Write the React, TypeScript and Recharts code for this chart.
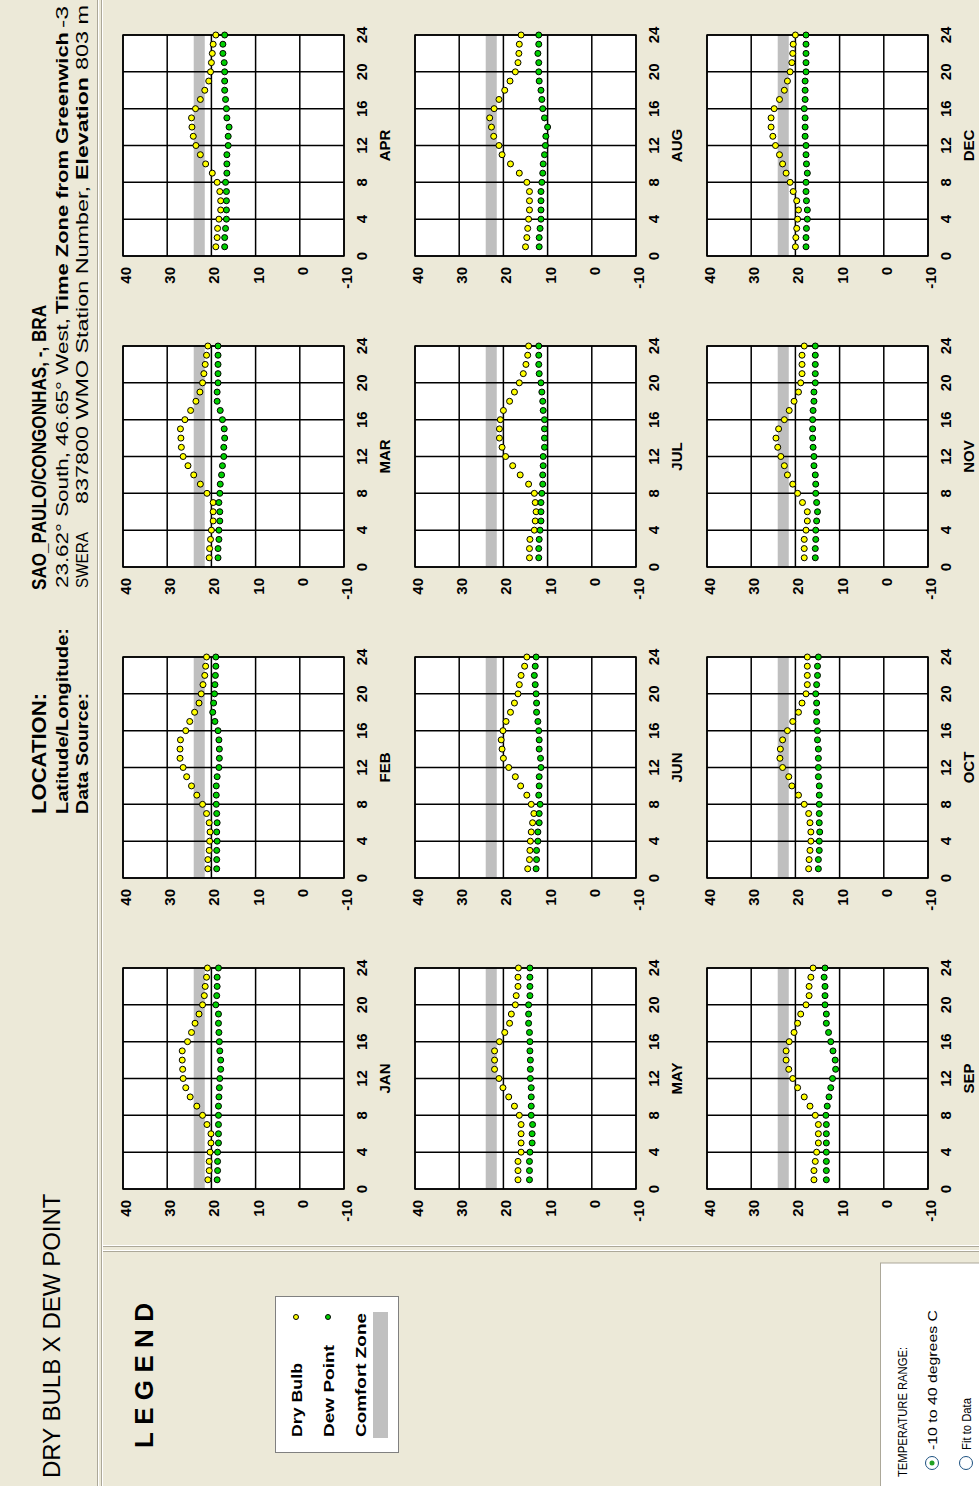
import React from 'react';
import { CartesianGrid, Label, ReferenceArea, Scatter, ScatterChart, XAxis, YAxis } from 'recharts';

// hourly values, hours 1..24
const HOURS = [1, 2, 3, 4, 5, 6, 7, 8, 9, 10, 11, 12, 13, 14, 15, 16, 17, 18, 19, 20, 21, 22, 23, 24];
const MONTHS = ['JAN', 'FEB', 'MAR', 'APR', 'MAY', 'JUN', 'JUL', 'AUG', 'SEP', 'OCT', 'NOV', 'DEC'];
const HOUR_TICKS = [0, 4, 8, 12, 16, 20, 24];
const TEMP_TICKS = [-10, 0, 10, 20, 30, 40];
const COMFORT_ZONE = [21.5, 24];

const DRY_JAN = [20.8, 20.5, 20.5, 20.3, 20.1, 20.1, 21.0, 22.0, 23.3, 24.8, 25.8, 26.4, 26.5, 26.6, 26.6, 25.4, 24.5, 23.7, 22.8, 22.0, 21.6, 21.4, 21.1, 20.9];
const DEW_JAN = [18.7, 18.6, 18.6, 18.6, 18.4, 18.4, 18.4, 18.4, 18.4, 18.3, 18.2, 18.1, 17.9, 17.9, 18.1, 18.2, 18.3, 18.4, 18.4, 19.0, 18.8, 18.7, 18.7, 18.4];
const DRY_FEB = [20.8, 20.8, 20.5, 20.4, 20.3, 20.5, 21.1, 22.0, 23.3, 24.5, 25.6, 26.4, 27.1, 27.1, 27.0, 25.8, 24.9, 23.8, 22.8, 22.3, 21.9, 21.5, 21.3, 21.1];
const DEW_FEB = [18.8, 18.8, 18.8, 18.7, 18.8, 18.7, 18.8, 18.9, 18.9, 18.9, 18.7, 18.3, 18.2, 18.2, 18.3, 18.5, 19.2, 19.7, 19.5, 19.3, 19.2, 19.1, 19.0, 19.0];
const DRY_MAR = [20.5, 20.4, 20.2, 20.0, 19.6, 19.6, 19.6, 21.0, 22.5, 24.0, 25.3, 26.4, 26.8, 26.9, 27.0, 26.0, 24.7, 23.5, 22.6, 22.0, 21.7, 21.4, 21.1, 20.8];
const DEW_MAR = [18.5, 18.5, 18.3, 18.3, 18.1, 18.1, 18.3, 18.1, 18.0, 17.7, 17.5, 17.2, 17.2, 17.0, 17.1, 17.5, 18.0, 18.7, 18.7, 18.5, 18.5, 18.5, 18.5, 18.5];
const DRY_APR = [19.0, 18.7, 18.6, 18.3, 17.9, 17.9, 18.1, 18.7, 19.8, 21.3, 22.5, 23.5, 24.1, 24.4, 24.5, 23.6, 22.5, 21.5, 20.6, 20.2, 20.0, 19.8, 19.6, 19.0];
const DEW_APR = [17.0, 17.0, 16.8, 16.6, 16.6, 16.6, 16.6, 16.8, 16.5, 16.5, 16.5, 16.2, 16.2, 16.0, 16.5, 16.6, 16.8, 17.0, 17.0, 17.0, 17.1, 17.4, 17.4, 17.0];
const DRY_MAY = [16.7, 16.7, 16.7, 16.0, 16.0, 16.0, 16.0, 16.4, 17.5, 18.8, 20.1, 21.0, 22.0, 22.0, 22.0, 20.9, 19.7, 18.6, 18.2, 17.3, 17.1, 16.7, 16.7, 16.6];
const DEW_MAY = [14.1, 14.1, 14.1, 14.0, 13.5, 13.5, 13.4, 13.7, 13.7, 13.7, 13.7, 13.9, 13.9, 13.9, 14.0, 14.0, 14.1, 14.3, 14.3, 14.3, 14.0, 14.0, 14.0, 14.0];
const DRY_JUN = [14.5, 14.1, 14.0, 13.9, 13.7, 13.4, 13.1, 13.7, 14.7, 16.1, 17.3, 18.8, 20.0, 20.3, 20.5, 20.1, 19.4, 18.4, 17.5, 16.7, 16.4, 16.0, 15.2, 14.7];
const DEW_JUN = [12.6, 12.5, 12.5, 12.2, 12.2, 11.9, 11.9, 11.7, 12.0, 11.9, 11.9, 11.5, 11.6, 11.9, 11.9, 12.0, 12.2, 12.5, 12.5, 12.6, 12.8, 13.0, 12.8, 12.6];
const DRY_JUL = [14.1, 14.1, 14.0, 13.0, 12.8, 12.6, 12.8, 13.0, 14.3, 16.2, 17.9, 19.5, 20.3, 20.9, 20.9, 20.7, 20.0, 18.6, 17.5, 16.4, 15.5, 14.9, 14.5, 14.3];
const DEW_JUL = [12.0, 12.0, 11.9, 11.7, 11.5, 11.5, 11.5, 11.3, 11.1, 11.1, 11.0, 11.0, 10.7, 10.7, 10.7, 10.7, 11.0, 11.1, 11.3, 11.5, 11.9, 12.0, 12.0, 12.0];
const DRY_AUG = [15.0, 14.7, 14.5, 14.3, 14.1, 14.1, 14.1, 14.7, 16.4, 18.4, 20.3, 21.0, 22.2, 22.7, 23.1, 22.1, 21.0, 19.7, 18.5, 17.3, 16.7, 16.5, 16.4, 16.0];
const DEW_AUG = [11.9, 11.9, 11.7, 11.5, 11.5, 11.5, 11.5, 11.3, 11.1, 11.0, 10.7, 10.5, 10.4, 10.0, 10.7, 11.1, 11.3, 11.5, 11.9, 12.0, 12.0, 12.2, 12.0, 12.0];
const DRY_SEP = [15.8, 15.8, 15.5, 15.2, 14.8, 14.8, 14.8, 15.5, 16.7, 18.0, 19.5, 20.6, 21.5, 22.1, 22.1, 21.4, 20.3, 19.5, 18.8, 17.6, 16.9, 16.9, 16.5, 16.0];
const DEW_SEP = [13.0, 13.0, 13.0, 13.0, 13.0, 13.0, 13.0, 13.1, 12.8, 12.4, 12.0, 11.6, 10.9, 11.0, 11.5, 12.0, 12.5, 13.0, 13.0, 13.3, 13.3, 13.3, 13.5, 13.3];
const DRY_OCT = [17.0, 16.9, 16.7, 16.5, 16.5, 16.7, 17.0, 18.0, 19.3, 20.8, 21.5, 22.9, 23.5, 23.4, 22.9, 21.8, 20.6, 19.3, 18.5, 17.6, 17.3, 17.3, 17.3, 17.3];
const DEW_OCT = [14.8, 14.8, 14.6, 14.6, 14.5, 14.6, 14.6, 14.6, 14.6, 14.6, 14.8, 14.8, 14.8, 14.8, 15.0, 15.0, 15.2, 15.2, 15.2, 15.4, 15.2, 15.0, 15.0, 14.8];
const DRY_NOV = [18.0, 18.0, 18.0, 17.6, 17.3, 17.3, 18.4, 19.5, 20.6, 21.8, 22.5, 23.3, 24.0, 24.4, 23.8, 22.5, 21.4, 20.3, 19.3, 18.8, 18.5, 18.5, 18.5, 18.0];
const DEW_NOV = [15.5, 15.5, 15.4, 15.4, 15.2, 15.0, 15.2, 15.4, 15.4, 15.5, 15.8, 15.8, 16.0, 16.1, 16.1, 16.1, 16.0, 15.8, 15.8, 15.5, 15.5, 15.5, 15.5, 15.5];
const DRY_DEC = [20.0, 19.9, 19.7, 19.5, 19.3, 19.7, 20.5, 21.2, 22.1, 22.9, 23.6, 24.5, 25.1, 25.5, 25.5, 24.8, 23.6, 22.5, 21.8, 21.2, 20.8, 20.6, 20.5, 20.0];
const DEW_DEC = [17.6, 17.6, 17.5, 17.3, 17.3, 17.5, 17.6, 17.6, 17.3, 17.5, 17.6, 17.6, 17.8, 17.8, 17.8, 18.0, 17.8, 17.8, 17.8, 17.6, 17.6, 17.6, 17.6, 17.6];

const DRY_BULB = [DRY_JAN, DRY_FEB, DRY_MAR, DRY_APR, DRY_MAY, DRY_JUN, DRY_JUL, DRY_AUG, DRY_SEP, DRY_OCT, DRY_NOV, DRY_DEC];
const DEW_POINT = [DEW_JAN, DEW_FEB, DEW_MAR, DEW_APR, DEW_MAY, DEW_JUN, DEW_JUL, DEW_AUG, DEW_SEP, DEW_OCT, DEW_NOV, DEW_DEC];

// layout (landscape frame, the whole thing gets turned 90deg at the end)
const PLOT_LEFT = [297, 608, 919, 1230];
const PLOT_TOP = [123, 415, 707];
const PLOT_SIZE = 221;
const FONT = "'Liberation Sans', Arial, Helvetica, sans-serif";
const BG = '#ECE9D8';
const YELLOW = '#FFFF00';
const GREEN = '#00D000';

const tickStyle = { fontFamily: FONT, fontSize: 15, fontWeight: 700, fill: '#000' };

const HourTick = (props: any) => (
  <text x={props.x} y={props.y + 23} textAnchor="middle" style={tickStyle}>
    {props.payload.value}
  </text>
);

const TempTick = (props: any) => (
  <text x={props.x - 11} y={props.y + 8} textAnchor="end" style={tickStyle}>
    {props.payload.value}
  </text>
);

const dot = (color: string) => (props: any) => (
  <circle cx={props.cx} cy={props.cy} r={3} fill={color} stroke="#000" strokeWidth={1} />
);

const MonthChart = ({ index }: { index: number }) => {
  const left = PLOT_LEFT[index % 4];
  const top = PLOT_TOP[Math.floor(index / 4)];
  const month = MONTHS[index];
  const dryData = HOURS.map((h, i) => ({ hour: h, temp: DRY_BULB[index][i] }));
  const dewData = HOURS.map((h, i) => ({ hour: h, temp: DEW_POINT[index][i] }));

  return (
    <div style={{ position: 'absolute', left: left - 50, top: top - 10 }}>
      <ScatterChart
        width={PLOT_SIZE + 70}
        height={PLOT_SIZE + 65}
        margin={{ top: 10, right: 20, bottom: 5, left: 10 }}
      >
        <CartesianGrid fill="#fff" stroke="#000" strokeWidth={1.5} strokeOpacity={1} />
        <ReferenceArea
          y1={COMFORT_ZONE[0]}
          y2={COMFORT_ZONE[1]}
          fill="#000"
          fillOpacity={0.25}
          stroke="none"
        />
        <ReferenceArea x1={0} x2={24} y1={-10} y2={40} fill="none" stroke="#000" strokeWidth={1.5} />
        <XAxis
          type="number"
          dataKey="hour"
          domain={[0, 24]}
          ticks={HOUR_TICKS}
          interval={0}
          height={50}
          tickSize={0}
          tickMargin={0}
          tickLine={false}
          axisLine={false}
          tick={<HourTick />}
        >
          <Label
            content={(p: any) => (
              <text
                x={p.viewBox.x + p.viewBox.width / 2}
                y={p.viewBox.y + 46}
                textAnchor="middle"
                style={{ fontFamily: FONT, fontSize: 15, fontWeight: 700, fill: '#000' }}
              >
                {month}
              </text>
            )}
          />
        </XAxis>
        <YAxis
          type="number"
          dataKey="temp"
          domain={[-10, 40]}
          ticks={TEMP_TICKS}
          interval={0}
          width={40}
          tickSize={0}
          tickMargin={0}
          tickLine={false}
          axisLine={false}
          tick={<TempTick />}
        />
        <Scatter data={dryData} fill={YELLOW} shape={dot(YELLOW)} isAnimationActive={false} />
        <Scatter data={dewData} fill={GREEN} shape={dot(GREEN)} isAnimationActive={false} />
      </ScatterChart>
    </div>
  );
};

const T = (props: any) => {
  const { x, y, size, bold, len, spacing, children } = props;
  return (
    <text
      x={x}
      y={y}
      fontFamily={FONT}
      fontSize={size}
      fontWeight={bold ? 700 : 400}
      fill="#000"
      textLength={len}
      lengthAdjust={len ? (spacing ? 'spacing' : 'spacingAndGlyphs') : undefined}
    >
      {children}
    </text>
  );
};

const Decor = () => (
  <svg width={1486} height={979} style={{ position: 'absolute', left: 0, top: 0 }}>
    {/* header */}
    <T x={8} y={60} size={24}>DRY BULB X DEW POINT</T>
    <T x={672} y={46} size={21} bold len={121}>LOCATION:</T>
    <T x={896} y={46} size={21} bold len={285}>SAO_PAULO/CONGONHAS, -, BRA</T>
    <T x={672} y={68} size={17} bold len={186}>Latitude/Longitude:</T>
    <T x={898} y={68} size={17} len={270}>23.62° South, 46.65° West,</T>
    <T x={1172} y={68} size={17} bold len={282}>Time Zone from Greenwich</T>
    <T x={1458} y={68} size={17} len={22}>-3</T>
    <T x={672} y={88} size={17} bold len={121}>Data Source:</T>
    <T x={898} y={88} size={17} len={56}>SWERA</T>
    <T x={982} y={88} size={17} len={318}>837800 WMO Station Number,</T>
    <T x={1306} y={88} size={17} bold len={103}>Elevation</T>
    <T x={1416} y={88} size={17} len={65}>803 m</T>

    {/* dividers */}
    <line x1={0} x2={1486} y1={97.5} y2={97.5} stroke="#ACA899" />
    <line x1={0} x2={1486} y1={98.5} y2={98.5} stroke="#fff" />
    <line x1={0} x2={1486} y1={101.5} y2={101.5} stroke="#ACA899" />
    <line x1={0} x2={1486} y1={102.5} y2={102.5} stroke="#fff" />
    <line x1={234.5} x2={234.5} y1={103} y2={979} stroke="#ACA899" />
    <line x1={235.5} x2={235.5} y1={103} y2={979} stroke="#fff" />
    <line x1={239.5} x2={239.5} y1={103} y2={979} stroke="#ACA899" />
    <line x1={240.5} x2={240.5} y1={103} y2={979} stroke="#fff" />

    {/* legend */}
    <T x={38} y={153} size={26} bold len={145} spacing>LEGEND</T>
    <rect x={33.5} y={275.5} width={156} height={123} fill="#fff" stroke="#808080" />
    <T x={49} y={302} size={15} bold len={74}>Dry Bulb</T>
    <circle cx={169} cy={296} r={2.5} fill={YELLOW} stroke="#000" strokeWidth={1} />
    <T x={49} y={334} size={15} bold len={92}>Dew Point</T>
    <circle cx={169} cy={328} r={2.5} fill={GREEN} stroke="#000" strokeWidth={1} />
    <T x={49} y={366} size={15} bold len={124}>Comfort Zone</T>
    <rect x={48} y={373} width={126} height={15} fill="#C0C0C0" />

    {/* temperature range */}
    <rect x={-1} y={880.5} width={224} height={100} fill="#fff" stroke="#ACA899" />
    <T x={9} y={907} size={12} len={130}>TEMPERATURE RANGE:</T>
    <circle cx={23} cy={932} r={6.5} fill="#fff" stroke="#1C5180" strokeWidth={1} />
    <circle cx={23} cy={932} r={2.5} fill="#21A121" />
    <T x={36} y={937} size={13} len={140}>-10 to 40 degrees C</T>
    <circle cx={23} cy={966} r={6.5} fill="#fff" stroke="#1C5180" strokeWidth={1} />
    <T x={36} y={971} size={13} len={52}>Fit to Data</T>
  </svg>
);

const App = () => (
  <div
    style={{
      position: 'absolute',
      left: 0,
      top: 0,
      width: 979,
      height: 1486,
      overflow: 'hidden',
      background: BG,
    }}
  >
    <div
      style={{
        position: 'absolute',
        left: 0,
        top: 0,
        width: 1486,
        height: 979,
        background: BG,
        transformOrigin: '0 0',
        transform: 'translate(0px, 1486px) rotate(-90deg)',
      }}
    >
      <Decor />
      {MONTHS.map((m, i) => (
        <MonthChart key={m} index={i} />
      ))}
    </div>
  </div>
);

export default App;
